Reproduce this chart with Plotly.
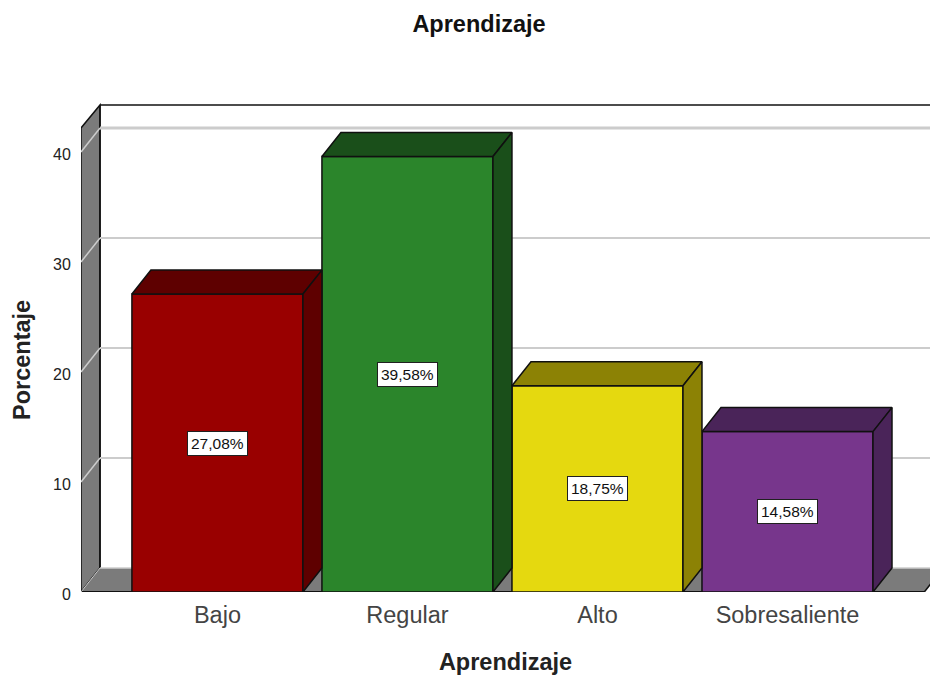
import plotly.graph_objects as go

categories = ["Bajo", "Regular", "Alto", "Sobresaliente"]
values = [27.08, 39.58, 18.75, 14.58]
value_labels = ["27,08%", "39,58%", "18,75%", "14,58%"]
front_colors = ["#990000", "#2b852b", "#e5d90f", "#77368c"]
dark_colors = ["#5e0000", "#1a4f1a", "#8c8205", "#4a2459"]
y_ticks = [0, 10, 20, 30, 40]

FONT = "Liberation Sans"
BAR_W = 0.9
DX = 0.1      # depth of the 3D effect, x units
DY = 2.18     # depth of the 3D effect, y units
X0, X1 = -0.718, 3.75
Y1 = 44.45
WALL = "#7b7b7b"
GRID = "#cccccc"
pos = list(range(len(categories)))

fig = go.Figure()

fig.add_trace(go.Bar(
    x=pos, y=values, width=BAR_W,
    marker=dict(color=front_colors, line=dict(color="#101010", width=1.5)),
    hoverinfo="skip", showlegend=False,
))

for p, v, dark in zip(pos, values, dark_colors):
    l, r = p - BAR_W / 2, p + BAR_W / 2
    fig.add_trace(go.Scatter(
        x=[l, l + DX, r + DX, r, l], y=[v, v + DY, v + DY, v, v],
        mode="lines", fill="toself", fillcolor=dark,
        line=dict(color="#101010", width=1.5), hoverinfo="skip", showlegend=False,
    ))
    fig.add_trace(go.Scatter(
        x=[r, r + DX, r + DX, r, r], y=[v, v + DY, DY, 0, v],
        mode="lines", fill="toself", fillcolor=dark,
        line=dict(color="#101010", width=1.5), hoverinfo="skip", showlegend=False,
    ))

wx = X0 + DX
top = 44.27
shapes = [
    # side wall and floor
    dict(type="path", path=f"M {X0} 0 L {X0} {40 + DY} L {wx} {top} L {wx} {DY} Z",
         fillcolor=WALL, line=dict(color="#101010", width=1.5), layer="below"),
    dict(type="path", path=f"M {X0} 0 L {wx} {DY} L 3.82 {DY} L 3.72 0 Z",
         fillcolor=WALL, line=dict(width=0), layer="below"),
    dict(type="line", x0=wx, x1=wx, y0=DY, y1=top, line=dict(color="#101010", width=1.5), layer="below"),
    dict(type="line", x0=wx, x1=X1, y0=DY, y1=DY, line=dict(color=GRID, width=1.5), layer="below"),
    dict(type="line", x0=wx, x1=X1, y0=top, y1=top, line=dict(color="#101010", width=1.5), layer="below"),
    dict(type="line", x0=X0, x1=3.72, y0=0, y1=0, line=dict(color="#101010", width=2), layer="below"),
    dict(type="line", x0=3.72, x1=3.82, y0=0, y1=DY, line=dict(color="#101010", width=1.5), layer="below"),
    dict(type="line", x0=X0, x1=wx, y0=0, y1=DY, line=dict(color=GRID, width=1), layer="below"),
]
for t in y_ticks[1:]:
    shapes.append(dict(type="line", x0=wx, x1=X1, y0=t + DY, y1=t + DY,
                       line=dict(color=GRID, width=3 if t == 40 else 2), layer="below"))
    shapes.append(dict(type="line", x0=X0, x1=wx, y0=t, y1=t + DY,
                       line=dict(color=GRID, width=1.5), layer="below"))

annotations = [
    dict(x=p, y=v / 2, text=lab, showarrow=False, bgcolor="white",
         bordercolor="#202020", borderwidth=1, borderpad=3,
         font=dict(family=FONT, size=15.5, color="#111111"))
    for p, v, lab in zip(pos, values, value_labels)
]
annotations.append(dict(
    text="<b>Porcentaje</b>", textangle=-90, showarrow=False,
    xref="paper", x=-59 / 849, xanchor="center",
    yref="paper", y=(592 - 360) / 489, yanchor="middle",
    font=dict(family=FONT, size=23.5, color="#222222"),
))

fig.update_layout(
    width=930, height=675, autosize=False,
    margin=dict(l=81, r=0, t=103, b=83),
    paper_bgcolor="white", plot_bgcolor="white",
    title=dict(text="<b>Aprendizaje</b>", x=479 / 930, xanchor="center",
               y=1 - 24 / 675, yanchor="middle",
               font=dict(family=FONT, size=23.5, color="#111111")),
    xaxis=dict(range=[X0, X1], tickmode="array", tickvals=pos, ticktext=categories,
               showgrid=False, zeroline=False, showline=False, ticks="",
               ticklabelstandoff=6,
               tickfont=dict(family=FONT, size=23.5, color="#444444"),
               title=dict(text="<b>Aprendizaje</b>", standoff=27,
                          font=dict(family=FONT, size=23.5, color="#222222"))),
    yaxis=dict(range=[0, Y1], tickmode="array", tickvals=y_ticks,
               showgrid=False, zeroline=False, showline=False,
               ticks="outside", ticklen=6, tickcolor="rgba(0,0,0,0)",
               ticklabelshift=2,
               tickfont=dict(family=FONT, size=16, color="#222222")),
    shapes=shapes, annotations=annotations, showlegend=False,
)

fig.write_html("out.html", config=dict(displayModeBar=False),
               post_script="document.body.style.margin='0';")
